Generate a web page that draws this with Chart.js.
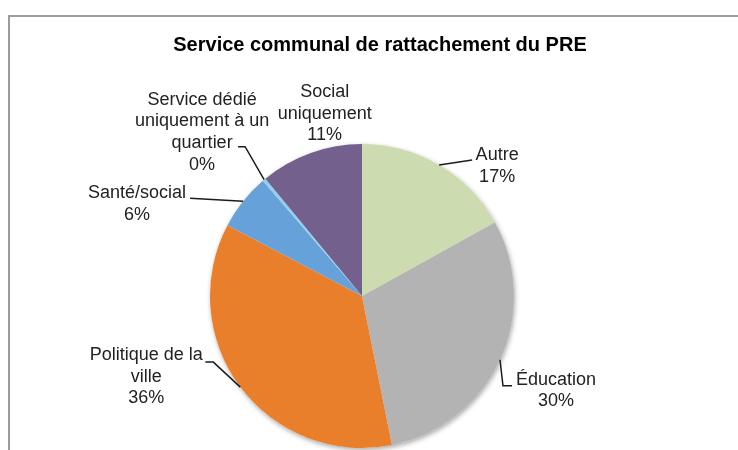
<!DOCTYPE html>
<html>
<head>
<meta charset="utf-8">
<script src="https://cdn.jsdelivr.net/npm/chart.js@4.4.1/dist/chart.umd.min.js"></script>
<style>
  html, body { margin: 0; padding: 0; background: #fff; overflow: hidden; }
  canvas { display: block; }
</style>
</head>
<body>
<canvas id="pie" width="738" height="450"></canvas>
<script>
// data
const title = 'Service communal de rattachement du PRE';
const categories = [
  ['Autre'],
  ['Éducation'],
  ['Politique de la', 'ville'],
  ['Santé/social'],
  ['Service dédié', 'uniquement à un', 'quartier'],
  ['Social', 'uniquement']
];
const values = [17, 30, 36, 6, 0.35, 11];
const colors = ['#cddcb0', '#b3b3b3', '#e97f2a', '#67a1d9', '#8fd0ee', '#74608d'];

// where each label sits, relative to the slice's outer mid point
const labelLayout = [
  { text: [58, -10], leader: [[33, -5]] },
  { text: [56, 20], leader: [[3, 26], [12, 26]] },
  { text: [-94, -32], leader: [[-27, -25], [-35, -25]] },
  { text: [-106, -8], leader: [[-53, -3]] },
  { text: [-62, -80], leader: [[-19, -33], [-26, -33]] },
  { text: [14, -61], leader: [] }
];

const total = values.reduce((a, b) => a + b, 0);

const pieExtras = {
  id: 'pieExtras',
  beforeDraw(chart) {
    // chart frame, cut off at the right and bottom like the source image
    const ctx = chart.ctx;
    ctx.save();
    ctx.strokeStyle = '#9c9c9c';
    ctx.lineWidth = 2;
    ctx.strokeRect(9, 16, 900, 600);
    ctx.restore();
  },
  beforeDatasetsDraw(chart) {
    // soft shadow under the whole pie
    const arc = chart.getDatasetMeta(0).data[0];
    const ctx = chart.ctx;
    ctx.save();
    ctx.shadowColor = 'rgba(0,0,0,0.35)';
    ctx.shadowBlur = 5;
    ctx.shadowOffsetX = 1;
    ctx.shadowOffsetY = 2;
    ctx.fillStyle = '#ffffff';
    ctx.beginPath();
    ctx.arc(arc.x, arc.y, arc.outerRadius, 0, Math.PI * 2);
    ctx.fill();
    ctx.restore();
  },
  afterDraw(chart) {
    const ctx = chart.ctx;
    ctx.save();
    // title
    ctx.fillStyle = '#000';
    ctx.font = 'bold 20px "Liberation Sans", Arial, sans-serif';
    ctx.textAlign = 'center';
    ctx.textBaseline = 'middle';
    ctx.fillText(title, 380, 45);

    // data labels with leader lines
    ctx.font = '18px "Liberation Sans", Arial, sans-serif';
    const lineH = 21.7;
    chart.getDatasetMeta(0).data.forEach((arc, i) => {
      const mid = (arc.startAngle + arc.endAngle) / 2;
      const ax = arc.x + Math.cos(mid) * arc.outerRadius;
      const ay = arc.y + Math.sin(mid) * arc.outerRadius;
      const lay = labelLayout[i];

      if (lay.leader.length) {
        ctx.strokeStyle = '#1c1c1c';
        ctx.lineWidth = 1.5;
        ctx.beginPath();
        ctx.moveTo(ax, ay);
        lay.leader.forEach(p => ctx.lineTo(ax + p[0], ay + p[1]));
        ctx.stroke();
      }

      const pct = Math.round(values[i] / total * 100) + '%';
      const lines = categories[i].concat([pct]);
      ctx.fillStyle = '#222';
      lines.forEach((t, k) => {
        ctx.fillText(t, ax + lay.text[0], ay + lay.text[1] + k * lineH);
      });
    });
    ctx.restore();
  }
};

new Chart(document.getElementById('pie'), {
  type: 'pie',
  data: {
    labels: categories,
    datasets: [{
      data: values,
      backgroundColor: colors,
      borderWidth: 0
    }]
  },
  options: {
    responsive: false,
    animation: false,
    layout: {
      padding: { left: 210, right: 224, top: 144, bottom: 2 }
    },
    plugins: {
      legend: { display: false },
      title: { display: false },
      tooltip: { enabled: false }
    }
  },
  plugins: [pieExtras]
});
</script>
</body>
</html>
